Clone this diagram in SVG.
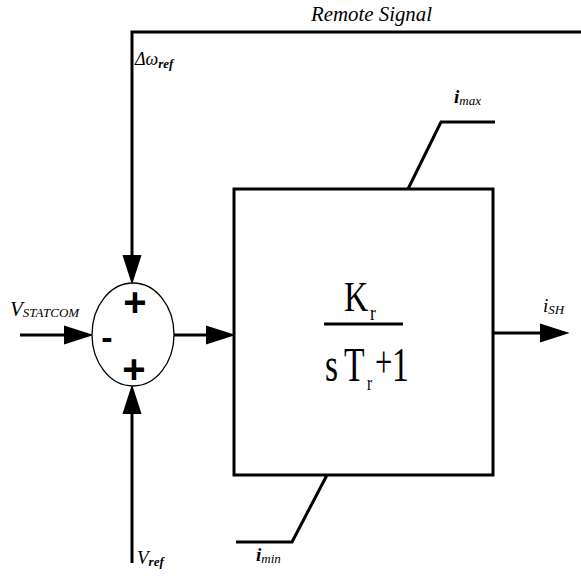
<svg xmlns="http://www.w3.org/2000/svg" width="581" height="579" viewBox="0 0 581 579">
<style>
.ln{fill:none;stroke:#000;stroke-width:3}
.lbl{font-family:"Liberation Serif",serif;font-style:italic;fill:#000}
.bi{font-weight:bold}
.sgn{font-family:"Liberation Sans",Arial,sans-serif;font-weight:bold;fill:#000;text-anchor:middle}
.eq{font-family:"Liberation Serif",serif;fill:#000}
</style>
<defs>
<marker id="ah" markerUnits="userSpaceOnUse" markerWidth="30" markerHeight="20" viewBox="0 0 28 18" refX="4" refY="9" orient="auto">
<path d="M0,0 L28,9 L0,18 z" fill="#000"/>
</marker>
</defs>
<rect width="581" height="579" fill="#fff"/>
<g id="connectors">
<path class="ln" d="M581,32 H132 V259" marker-end="url(#ah)"/>
<path class="ln" d="M20,335 H68" marker-end="url(#ah)"/>
<path class="ln" d="M174,335 H210" marker-end="url(#ah)"/>
<path class="ln" d="M132,563 V410" marker-end="url(#ah)"/>
<path class="ln" d="M493,333 H544" marker-end="url(#ah)"/>
</g>
<g id="sum">
<ellipse cx="133" cy="334.5" rx="41" ry="51.5" fill="#fff" stroke="#000" stroke-width="1.3"/>
<text class="sgn" x="135" y="316" font-size="40">+</text>
<text class="sgn" x="134" y="383" font-size="40">+</text>
<text class="sgn" x="107" y="349" font-size="34">-</text>
</g>
<g id="block">
<rect x="234" y="189" width="259" height="286" fill="#fff" stroke="#000" stroke-width="3"/>
<text class="eq" transform="scale(0.8,1)" x="430" y="311" font-size="42">K<tspan x="462.5" y="320" font-size="22">r</tspan></text>
<line x1="324" y1="324" x2="403" y2="324" stroke="#000" stroke-width="3"/>
<text class="eq" transform="scale(0.7,1)" x="464.3" y="381" font-size="48">s<tspan x="491.4">T</tspan><tspan x="524.3" y="390" font-size="22">r</tspan><tspan x="535.7" y="377" font-size="44">+</tspan><tspan x="560" y="381">1</tspan></text>
</g>
<g id="limit-max">
<path class="ln" d="M408,189 L441,122 H495"/>
<text class="lbl bi" x="454" y="103" font-size="19">i<tspan font-size="13" font-weight="normal" dy="2">max</tspan></text>
</g>
<g id="limit-min">
<path class="ln" d="M327,475 L292,542 H236"/>
<text class="lbl bi" x="256" y="561" font-size="19">i<tspan font-size="13" font-weight="normal" dy="2">min</tspan></text>
</g>
<g id="labels">
<text class="lbl" x="311" y="21" font-size="20" textLength="121" lengthAdjust="spacingAndGlyphs">Remote Signal</text>
<text class="lbl" x="135" y="65" font-size="18">Δω<tspan class="bi" font-size="13" dy="3">ref</tspan></text>
<text class="lbl" x="10" y="316" font-size="21">V<tspan font-size="13" dy="1">STATCOM</tspan></text>
<text class="lbl" x="137" y="564" font-size="19">V<tspan class="bi" font-size="13" dy="2">ref</tspan></text>
<text class="lbl" x="543" y="312" font-size="19">i<tspan font-size="13" dy="2">SH</tspan></text>
</g>
</svg>
